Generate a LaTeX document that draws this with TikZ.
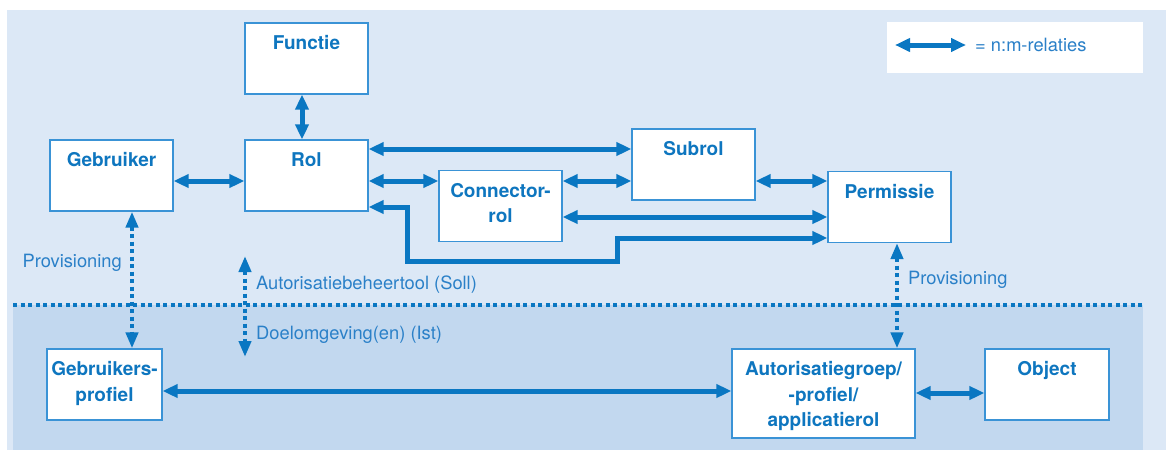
\documentclass[tikz,border=0pt]{standalone}
\usepackage{fontspec}
\setmainfont{TeX Gyre Heros}
\usetikzlibrary{arrows.meta}

\definecolor{bglight}{HTML}{DCE8F6}
\definecolor{bgdark}{HTML}{C2D8EF}
\definecolor{arrowblue}{HTML}{0A77C2}
\definecolor{boxline}{HTML}{3A93D6}
\definecolor{txtblue}{HTML}{0E76BF}
\definecolor{lblblue}{HTML}{2A80C8}

\tikzset{
  box/.style={draw=boxline, line width=1.2pt, fill=white, inner sep=0pt,
              minimum width=123pt, minimum height=71pt},
  btxt/.style={anchor=north, yshift=-13pt, inner sep=0pt, align=center,
               text=txtblue, font=\fontsize{19}{25.5}\selectfont\bfseries},
  nm/.style={draw=arrowblue, line width=5pt,
             {Triangle[length=15pt,width=13pt]}-{Triangle[length=15pt,width=13pt]}},
  prov/.style={draw=arrowblue, line width=4pt, dash pattern=on 4pt off 3.5pt,
               {Triangle[length=16pt,width=12pt]}-{Triangle[length=16pt,width=12pt]}},
  lbl/.style={inner sep=0pt, text=lblblue, font=\fontsize{18.3}{22}\selectfont},
}

\begin{document}
\begin{tikzpicture}[x=1pt, y=-1pt]
  \useasboundingbox (0,0) rectangle (1166,450);

  % background areas: model level (top) and target environments (bottom)
  \fill[bglight] (7,10) rectangle (1166,450);
  \fill[bgdark] (13,305) rectangle (1143,450);

  % separation line between Soll and Ist
  \coordinate (sepL) at (13,305);
  \coordinate (sepR) at (1145,305);
  \draw[arrowblue, line width=4.5pt, dash pattern=on 4pt off 3.5pt] (sepL) -- (sepR);

  % legend
  \node[fill=white, inner sep=0pt, minimum width=256pt, minimum height=51pt] (legend) at (1015,47.5) {};
  \coordinate (legA) at (895,45);
  \coordinate (legB) at (966,45);
  \draw[nm] (legA) -- (legB);
  \node[lbl, anchor=base west] (legtxt) at (975,51) {= n:m-relaties};

  % boxes
  \node[box, label={[btxt]north:Functie}]   (fun)  at (306.5,58.5) {};
  \node[box, label={[btxt]north:Gebruiker}] (geb)  at (111.5,175.5) {};
  \node[box, label={[btxt]north:Rol}]       (rol)  at (306.5,175.5) {};
  \node[box, label={[btxt]north:Subrol}]    (sub)  at (693.5,164.5) {};
  \node[box, label={[btxt]north:{Connector-\\rol}}] (con) at (500.5,206) {};
  \node[box, label={[btxt]north:Permissie}] (perm) at (889.5,207) {};
  \node[box, minimum width=115pt, label={[btxt]north:{Gebruikers-\\profiel}}] (gp) at (104.5,384.5) {};
  \node[box, minimum width=183pt, minimum height=89pt,
        label={[btxt]north:{Autorisatiegroep/\\-profiel/\\applicatierol}}] (ag) at (823.5,393.5) {};
  \node[box, minimum width=124pt, label={[btxt]north:Object}] (obj) at (1047,384.5) {};

  % n:m relations
  \draw[nm] ([xshift=-4.5pt]fun.south) -- ([xshift=-4.5pt]rol.north);
  \draw[nm] ([yshift=-5.5pt]geb.east) -- ([yshift=-5.5pt]rol.west);
  \draw[nm] ([yshift=26.5pt]rol.east) -- ([yshift=15.5pt]sub.west);
  \draw[nm] ([yshift=-5.5pt]rol.east) -- ([yshift=25pt]con.west);
  \draw[nm] ([yshift=25pt]con.east) -- ([yshift=-16.5pt]sub.west);
  \draw[nm] ([yshift=-16.5pt]sub.east) -- ([yshift=26pt]perm.west);
  \draw[nm] ([yshift=-11pt]con.east) -- ([yshift=-10pt]perm.west);
  \draw[nm] ([yshift=-31.5pt]rol.east) -- ++(39,0) -- ++(0,54) -- ++(210,0)
            -- ++(0,-23) -- ([yshift=-31pt]perm.west);
  \draw[nm] ([yshift=-6.5pt]gp.east) -- ([yshift=2.5pt]ag.west);
  \draw[nm] ([yshift=0.5pt]ag.east) -- ([yshift=-8.5pt]obj.west);

  % provisioning
  \draw[prov] ([xshift=20.5pt]geb.south) -- ([xshift=27.5pt]gp.north);
  \draw[prov] ([xshift=7.5pt]perm.south) -- ([xshift=73.5pt]ag.north);
  \node[lbl, anchor=base east] (provL) at (122,267) {Provisioning};
  \node[lbl, anchor=base west] (provR) at (908,284) {Provisioning};

  % Soll / Ist
  \coordinate (sollTop) at (245,256);
  \coordinate (istBot) at (245,357);
  \draw[prov] (sollTop) -- (istBot);
  \node[lbl, anchor=base west] (soll) at (256,289) {Autorisatiebeheertool (Soll)};
  \node[lbl, anchor=base west] (ist)  at (256,339) {Doelomgeving(en) (Ist)};
\end{tikzpicture}
\end{document}
